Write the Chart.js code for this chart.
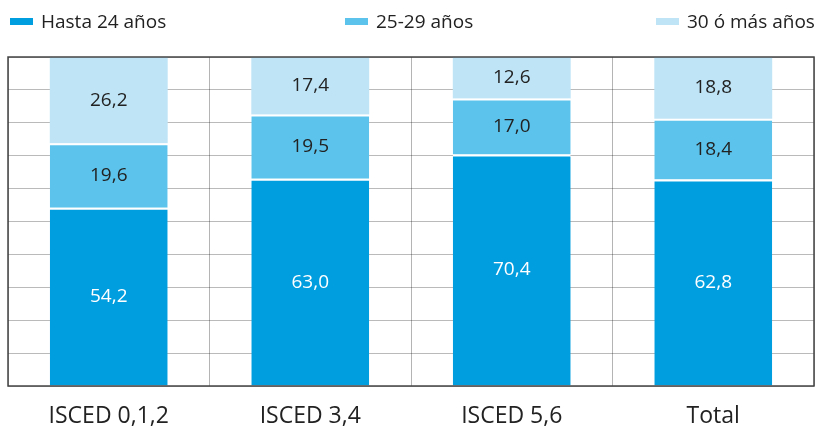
<!DOCTYPE html>
<html>
<head>
<meta charset="utf-8">
<script src="https://cdn.jsdelivr.net/npm/chart.js@4/dist/chart.umd.min.js"></script>
<style>
  body { margin: 0; background: #fff; overflow: hidden; }
  #wrap { position: relative; width: 816px; height: 427px; overflow: hidden; }
  .leyenda { position: absolute; top: 8px; font-family: "Open Sans", sans-serif; font-size: 19px; color: #222; white-space: nowrap; line-height: 26px; }
  .leyenda span { display: inline-block; width: 23px; height: 7px; margin-right: 8px; vertical-align: middle; position: relative; top: -1px; }
</style>
</head>
<body>
<div id="wrap">
  <canvas id="grafico" width="816" height="447"></canvas>
</div>
<script>
// Categorías y valores (%)
const categorias = ['ISCED 0,1,2', 'ISCED 3,4', 'ISCED 5,6', 'Total'];
const series = ['Hasta 24 años', '25-29 años', '30 ó más años'];
const hasta24 = [54.2, 63.0, 70.4, 62.8];
const de25a29 = [19.6, 19.5, 17.0, 18.4];
const mas30 = [26.2, 17.4, 12.6, 18.8];

const colores = ['#009ddf', '#5cc4ec', '#bee4f6'];
const coloresTexto = ['#ffffff', '#222222', '#222222'];
const posLeyenda = [10, 345, 656];

// Leyenda en HTML (posiciones fijas como en el original)
const wrap = document.getElementById('wrap');
series.forEach((nombre, i) => {
  const d = document.createElement('div');
  d.className = 'leyenda';
  d.style.left = posLeyenda[i] + 'px';
  d.innerHTML = '<span style="background:' + colores[i] + '"></span>' + nombre;
  wrap.appendChild(d);
});

// Marco del área del gráfico
const marco = {
  id: 'marco',
  afterDraw(chart) {
    const { ctx, chartArea: a } = chart;
    ctx.save();
    ctx.strokeStyle = '#444';
    ctx.lineWidth = 1.5;
    ctx.strokeRect(a.left, a.top, a.right - a.left, a.bottom - a.top);
    ctx.restore();
  }
};

// Etiquetas con los valores en el centro de cada segmento
const etiquetas = {
  id: 'etiquetas',
  afterDatasetsDraw(chart) {
    const ctx = chart.ctx;
    ctx.save();
    ctx.font = '19px "Open Sans", sans-serif';
    ctx.textAlign = 'center';
    ctx.textBaseline = 'middle';
    chart.data.datasets.forEach((ds, i) => {
      const meta = chart.getDatasetMeta(i);
      ctx.fillStyle = coloresTexto[i];
      meta.data.forEach((bar, j) => {
        const p = bar.getCenterPoint();
        ctx.fillText(ds.data[j].toFixed(1).replace('.', ','), p.x, p.y);
      });
    });
    ctx.restore();
  }
};

const valores = [hasta24, de25a29, mas30];

const chart = new Chart(document.getElementById('grafico').getContext('2d'), {
  type: 'bar',
  data: {
    labels: categorias,
    datasets: series.map((nombre, i) => ({
      label: nombre,
      data: valores[i],
      backgroundColor: colores[i],
      borderColor: '#ffffff',
      borderWidth: i < 2 ? { top: 2 } : 0,
      borderSkipped: false,
      categoryPercentage: 1,
      barPercentage: 0.585
    }))
  },
  options: {
    responsive: false,
    animation: false,
    layout: { padding: { top: 57, left: 8, right: 2, bottom: 0 } },
    plugins: {
      legend: { display: false },
      tooltip: { enabled: false }
    },
    scales: {
      x: {
        stacked: true,
        grid: { color: '#b4b4b4', drawTicks: false, offset: true },
        border: { display: false },
        ticks: {
          color: '#222',
          padding: 19,
          font: { family: '"Open Sans", sans-serif', size: 23, lineHeight: 1 }
        }
      },
      y: {
        stacked: true,
        min: 0,
        max: 100,
        z: 1,
        ticks: { display: false, stepSize: 10 },
        grid: { color: 'rgba(0,0,0,0.27)', drawTicks: false },
        border: { display: false }
      }
    }
  },
  plugins: [etiquetas, marco]
});
</script>
</body>
</html>
